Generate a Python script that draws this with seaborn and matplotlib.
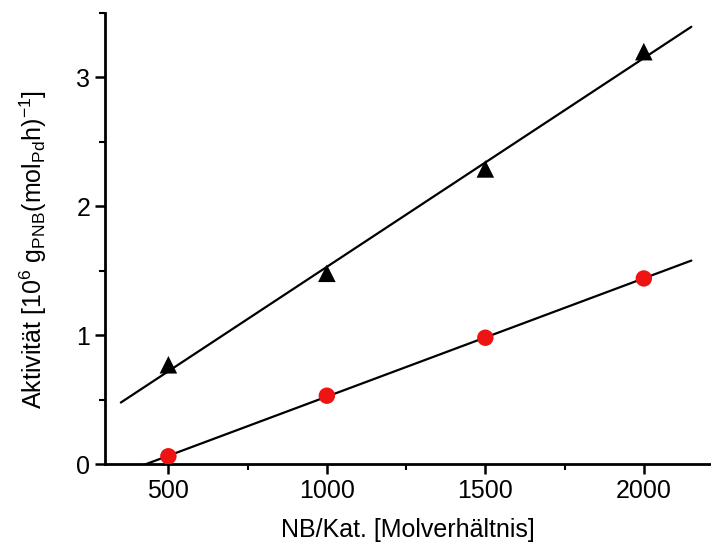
#%% Packages
import numpy as np
import pandas as pd
import matplotlib
matplotlib.use("Agg")
import matplotlib.pyplot as plt
from matplotlib.ticker import MultipleLocator
import seaborn as sns

#%% Data
nb_kat = [500, 1000, 1500, 2000]
aktivitaet_dreieck = [0.77, 1.48, 2.29, 3.20]
aktivitaet_kreis = [0.06, 0.53, 0.98, 1.44]
fit_range = [350, 2150]

df = pd.DataFrame({
    "nb": nb_kat * 2,
    "akt": aktivitaet_dreieck + aktivitaet_kreis,
    "serie": ["dreieck"] * 4 + ["kreis"] * 4,
})

#%% Style
sns.set_style("ticks")
plt.rcParams["font.family"] = ["Liberation Sans", "DejaVu Sans"]
plt.rcParams["mathtext.fontset"] = "custom"
plt.rcParams["mathtext.rm"] = "Liberation Sans"
plt.rcParams["mathtext.it"] = "Liberation Sans"
plt.rcParams["mathtext.default"] = "regular"
plt.rcParams["text.color"] = "black"
plt.rcParams["axes.labelcolor"] = "black"
plt.rcParams["xtick.color"] = "black"
plt.rcParams["ytick.color"] = "black"
plt.rcParams["axes.edgecolor"] = "black"

fig = plt.figure(figsize=(7.11, 5.46), dpi=100)
ax = fig.add_axes([105 / 711, 82 / 546, 606 / 711, 451 / 546])

#%% Linear fits
x_fit = np.array(fit_range, dtype=float)
for y in (aktivitaet_dreieck, aktivitaet_kreis):
    k, d = np.polyfit(nb_kat, y, 1)
    sns.lineplot(x=x_fit, y=k * x_fit + d, color="black", linewidth=1.6, ax=ax)

#%% Points
sns.scatterplot(data=df[df.serie == "dreieck"], x="nb", y="akt", marker="^",
                color="black", s=160, edgecolor="none", ax=ax, zorder=3)
sns.scatterplot(data=df[df.serie == "kreis"], x="nb", y="akt", marker="o",
                color="#ee1414", s=140, edgecolor="none", ax=ax, zorder=3)

#%% Axes
ax.set_xlim(300, 2212)
ax.set_ylim(0, 3.5)
ax.xaxis.set_major_locator(MultipleLocator(500))
ax.xaxis.set_minor_locator(MultipleLocator(250))
ax.yaxis.set_major_locator(MultipleLocator(1))
ax.yaxis.set_minor_locator(MultipleLocator(0.5))
ax.tick_params(which="major", length=7, width=1.8, labelsize=18, direction="out", pad=3.5)
ax.tick_params(which="minor", length=4, width=1.5, direction="out")
for s in ("left", "bottom"):
    ax.spines[s].set_linewidth(2)
sns.despine(ax=ax)

ax.set_xlabel("NB/Kat. [Molverhältnis]", fontsize=18, labelpad=11)
ax.set_ylabel(r"Aktivität [10$^6$ g$_{PNB}$(mol$_{Pd}$h)$^{-1}$]", fontsize=18, labelpad=20)
ax.yaxis.label.set_y(0.475)

fig.savefig("out.png", dpi=100)
